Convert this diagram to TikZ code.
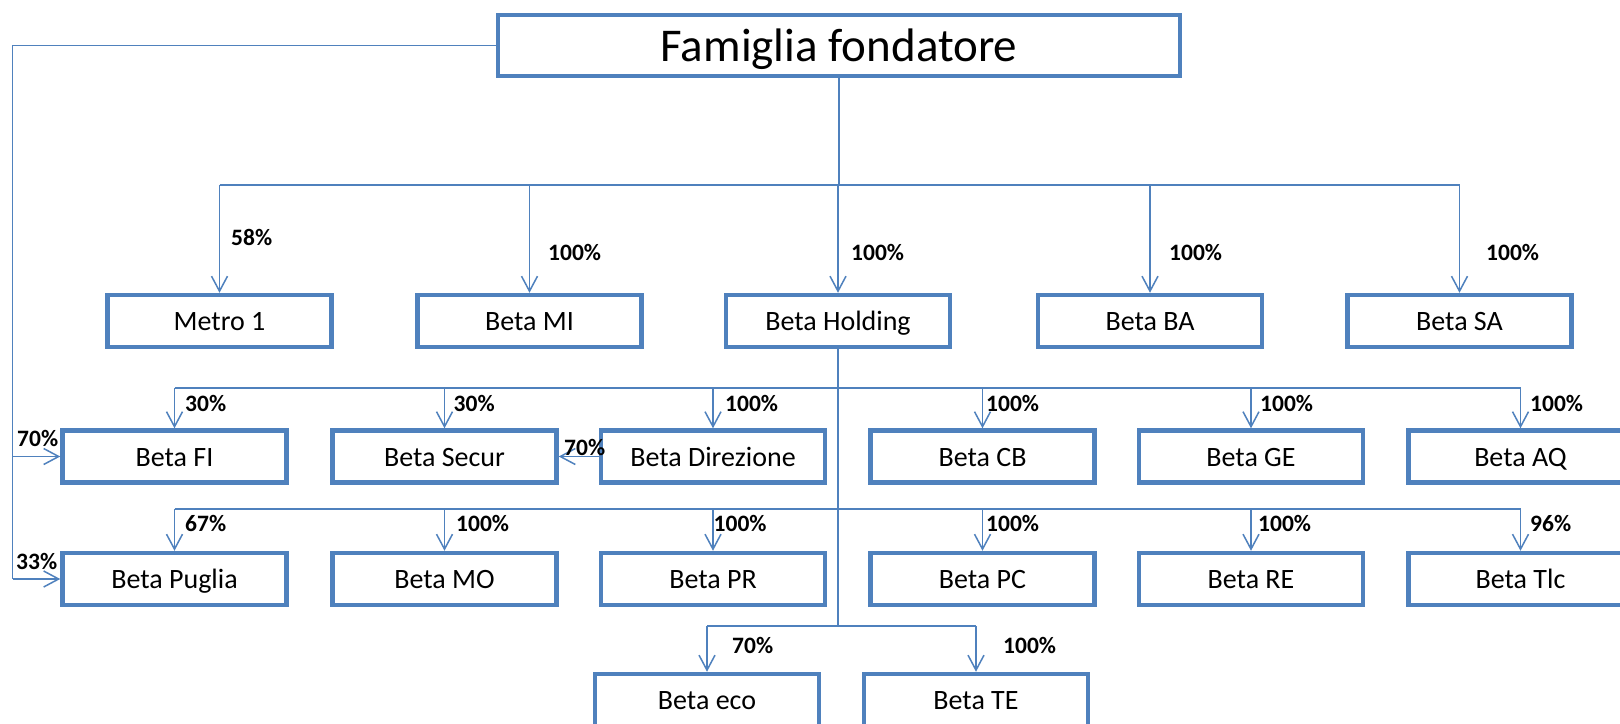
\documentclass[tikz,border=0pt]{standalone}
\usepackage{fontspec}
\setmainfont{Carlito}
\usetikzlibrary{arrows.meta}
\definecolor{bblue}{HTML}{4F81BD}
\begin{document}
\begin{tikzpicture}[x=1pt,y=-1pt,
  box/.style={draw=bblue, line width=4.5pt, minimum width=224pt, minimum height=52pt, inner sep=0pt, text height=19.6pt, text depth=0pt, font=\fontsize{28}{32}\selectfont},
  conn/.style={draw=bblue, line width=1.5pt},
  arr/.style={conn, -{Straight Barb[length=15pt,width=16pt]}},
  pct/.style={font=\bfseries\fontsize{23.5}{26}\selectfont, anchor=west, inner sep=0pt}]
\path[use as bounding box] (0,0) rectangle (1620,723);
\clip (0,0) rectangle (1620,723);
\fill[white] (0,0) rectangle (1620,723);
% top
\node[box, minimum width=682pt, minimum height=61pt, text height=31pt, font=\fontsize{47}{52}\selectfont] (fam) at (839,45.5) {Famiglia fondatore};
% row 1
\node[box] (m1)   at (219.5,321) {Metro 1};
\node[box] (mi)   at (529.5,321) {Beta MI};
\node[box] (hold) at (838,321)   {Beta Holding};
\node[box] (ba)   at (1150,321)  {Beta BA};
\node[box] (sa)   at (1459.5,321) {Beta SA};
% row 2
\node[box] (fi)  at (174.5,456.5) {Beta FI};
\node[box] (sec) at (444.5,456.5) {Beta Secur};
\node[box] (dir) at (713,456.5)   {Beta Direzione};
\node[box] (cb)  at (982.5,456.5) {Beta CB};
\node[box] (ge)  at (1251,456.5)  {Beta GE};
\node[box] (aq)  at (1520.5,456.5) {Beta AQ};
% row 3
\node[box] (pug) at (174.5,579) {Beta Puglia};
\node[box] (mo)  at (444.5,579) {Beta MO};
\node[box] (pr)  at (713,579)   {Beta PR};
\node[box] (pc)  at (982.5,579) {Beta PC};
\node[box] (re)  at (1251,579)  {Beta RE};
\node[box] (tlc) at (1520.5,579) {Beta Tlc};
% row 4
\node[box] (eco) at (707,700) {Beta eco};
\node[box] (te)  at (976,700) {Beta TE};
% bus coordinates
\coordinate (busA) at (0,185);
\coordinate (busB) at (0,388);
\coordinate (busC) at (0,509);
\coordinate (busD) at (0,626);
\coordinate (L) at (12.6,45.5);
% left line
\draw[conn] (fam.west) -- (L) -- (L |- pug.west);
\draw[arr] (L |- fi.west) -- (fi.west);
\draw[arr] (L |- pug.west) -- (pug.west);
% top trunk and bus
\draw[conn, line width=2.5pt] (fam.south) -- (fam.south |- busA);
\draw[conn] (m1.north |- busA) -- (sa.north |- busA);
\foreach \n in {m1,mi,hold,ba,sa} \draw[arr] (\n.north |- busA) -- (\n.north);
% holding trunk
\draw[conn] (hold.south) -- (hold.south |- busD);
\draw[conn] (fi.north |- busB) -- (aq.north |- busB);
\draw[conn] (pug.north |- busC) -- (tlc.north |- busC);
\draw[conn] (eco.north |- busD) -- (te.north |- busD);
\foreach \n in {fi,sec,dir,cb,ge,aq} \draw[arr] (\n.north |- busB) -- (\n.north);
\foreach \n in {pug,mo,pr,pc,re,tlc} \draw[arr] (\n.north |- busC) -- (\n.north);
\foreach \n in {eco,te} \draw[arr] (\n.north |- busD) -- (\n.north);
\draw[arr] (dir.west) -- (sec.east);
% labels
\node[pct] (l1) at (231,237) {58\%};
\node[pct] (l2) at (548,252) {100\%};
\node[pct] (l3) at (851,252) {100\%};
\node[pct] (l4) at (1169,252) {100\%};
\node[pct] (l5) at (1486,252) {100\%};
\node[pct] (l6) at (185,403) {30\%};
\node[pct] (l7) at (453.5,403) {30\%};
\node[pct] (l8) at (725,403) {100\%};
\node[pct] (l9) at (986,403) {100\%};
\node[pct] (l10) at (1260,403) {100\%};
\node[pct] (l11) at (1530,403) {100\%};
\node[pct] (l12) at (17,438) {70\%};
\node[pct] (l13) at (564,447) {70\%};
\node[pct] (l14) at (185,523) {67\%};
\node[pct] (l15) at (456,523) {100\%};
\node[pct] (l16) at (713.5,523) {100\%};
\node[pct] (l17) at (986,523) {100\%};
\node[pct] (l18) at (1258,523) {100\%};
\node[pct] (l19) at (1530,523) {96\%};
\node[pct] (l20) at (16,561) {33\%};
\node[pct] (l21) at (732,645) {70\%};
\node[pct] (l22) at (1003,645) {100\%};
\end{tikzpicture}
\end{document}
